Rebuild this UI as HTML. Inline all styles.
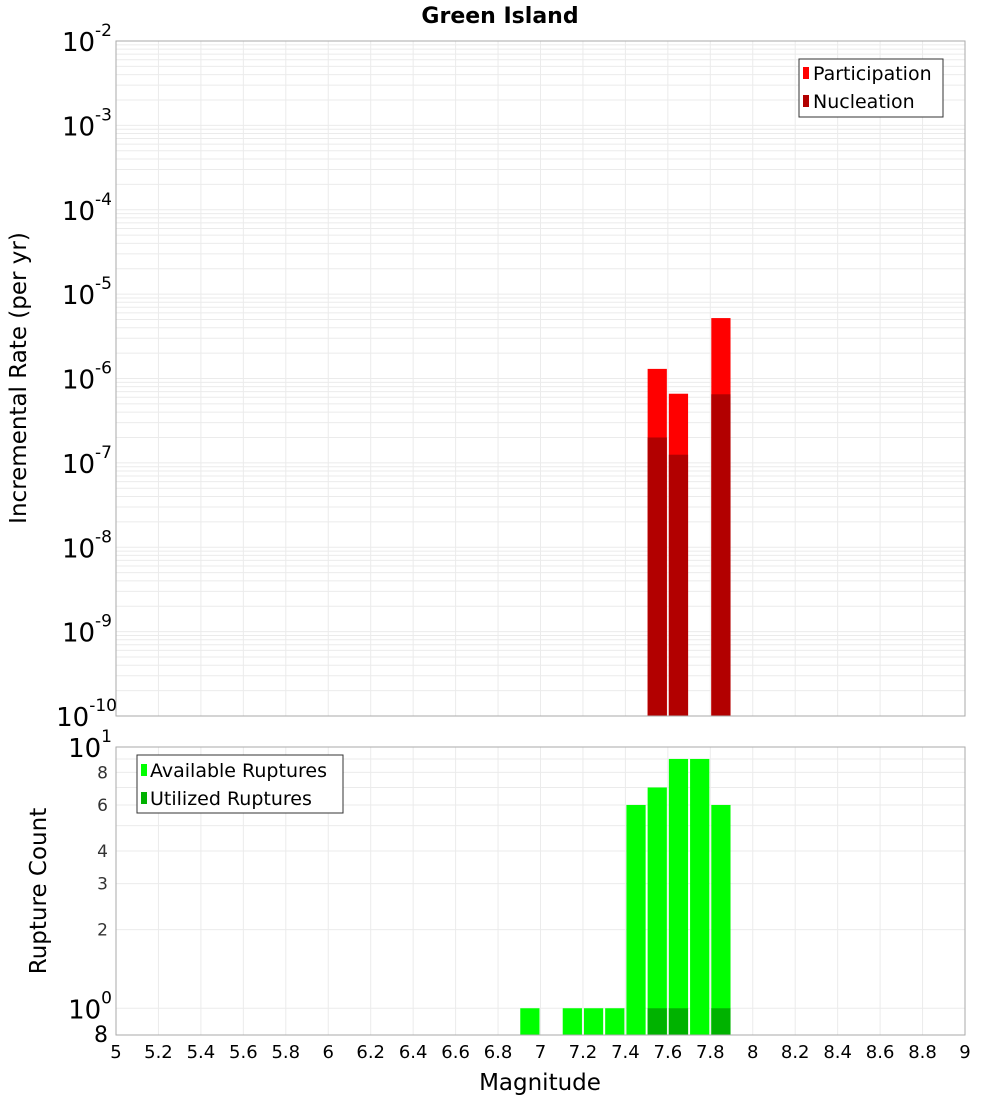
<!DOCTYPE html>
<html><head><meta charset="utf-8"><style>
body{margin:0;background:#fff;font-family:"DejaVu Sans","Liberation Sans",sans-serif}
svg{display:block}
</style></head><body>
<svg id="chart" width="1000" height="1100"></svg>
<script>
const binCenters=[7.55,7.65,7.85];
const participation=[1.3e-6,6.6e-7,5.2e-6];
const nucleation=[2.0e-7,1.25e-7,6.5e-7];
const availMags=[6.95,7.15,7.25,7.35,7.45,7.55,7.65,7.75,7.85];
const availCounts=[1,1,1,1,6,7,9,9,6];
const utilMags=[7.55,7.65,7.85];
const utilCounts=[1,1,1];
const xTicks=[5,5.2,5.4,5.6,5.8,6,6.2,6.4,6.6,6.8,7,7.2,7.4,7.6,7.8,8,8.2,8.4,8.6,8.8,9];
const topExps=[-2,-3,-4,-5,-6,-7,-8,-9,-10];
const botTicks=[2,3,4,6,8];

const NS="http://www.w3.org/2000/svg";
const svg=document.getElementById('chart');
function mk(tag,attrs,parent){const e=document.createElementNS(NS,tag);for(const k in attrs)e.setAttribute(k,attrs[k]);(parent||svg).appendChild(e);return e;}
const X0=116,X1=965;
const xs=m=>X0+(m-5)/4*(X1-X0);
const T0=41,T1=716;
const yTop=v=>T0+(-2-Math.log10(v))/8*(T1-T0);
const B0=747,B1=1035,BMIN=0.79;
const yBot=v=>B0+(1-Math.log10(v))/(1-Math.log10(BMIN))*(B1-B0);

let t=mk('text',{x:500,y:23,'text-anchor':'middle','font-size':22,'font-weight':'bold'});t.textContent='Green Island';


let g=mk('g',{});
for(let d=-10;d<-2;d++)for(let k=1;k<10;k++){const y=yTop(k*Math.pow(10,d));mk('line',{x1:X0,x2:X1,y1:y,y2:y,stroke:'#ebebeb','stroke-width':1},g);}
xTicks.forEach(m=>mk('line',{x1:xs(m),x2:xs(m),y1:T0,y2:T1,stroke:'#ebebeb'},g));
binCenters.forEach((m,i)=>{
 let r=mk('rect',{x:xs(m-0.05)+1,y:yTop(participation[i]),width:xs(m+0.05)-xs(m-0.05)-2,height:T1-yTop(participation[i]),fill:'#ff0000'},g);
 
 let n=mk('rect',{x:xs(m-0.05)+1,y:yTop(nucleation[i]),width:xs(m+0.05)-xs(m-0.05)-2,height:T1-yTop(nucleation[i]),fill:'#b20000'},g);
 
});
mk('rect',{x:X0,y:T0,width:X1-X0,height:T1-T0,fill:'none',stroke:'#aaa'},g);
topExps.forEach(e=>{const y=yTop(Math.pow(10,e));let tx=mk('text',{x:e==-10?117:112,y:y+10,'text-anchor':'end','font-size':26},g);
 tx.innerHTML='10<tspan dy="-15" font-size="17">'+e+'</tspan>';
 });
let yl=mk('text',{transform:'translate(26,378) rotate(-90)','text-anchor':'middle','font-size':23});yl.textContent='Incremental Rate (per yr)';

let lg=mk('g',{});
mk('rect',{x:799,y:59,width:144,height:58,fill:'#fff',stroke:'#333'},lg);
mk('rect',{x:803,y:67,width:6,height:12,fill:'#ff0000'},lg);
mk('rect',{x:803,y:95,width:6,height:12,fill:'#b20000'},lg);
let l1=mk('text',{x:813,y:80,'font-size':19},lg);l1.textContent='Participation';
let l2=mk('text',{x:813,y:108,'font-size':19},lg);l2.textContent='Nucleation';

let b=mk('g',{});
for(let k=1;k<=10;k++){const y=yBot(k);mk('line',{x1:X0,x2:X1,y1:y,y2:y,stroke:'#ebebeb'},b);}
xTicks.forEach(m=>mk('line',{x1:xs(m),x2:xs(m),y1:B0,y2:B1,stroke:'#ebebeb'},b));
availMags.forEach((m,i)=>{let r=mk('rect',{x:xs(m-0.05)+1,y:yBot(availCounts[i]),width:xs(m+0.05)-xs(m-0.05)-2,height:B1-yBot(availCounts[i]),fill:'#00ff00'},b);
 });
utilMags.forEach((m,i)=>{let r=mk('rect',{x:xs(m-0.05)+1,y:yBot(utilCounts[i]),width:xs(m+0.05)-xs(m-0.05)-2,height:B1-yBot(utilCounts[i]),fill:'#00b200'},b);
 });
mk('rect',{x:X0,y:B0,width:X1-X0,height:B1-B0,fill:'none',stroke:'#aaa'},b);
[[1,0],[10,1]].forEach(([v,e])=>{let tx=mk('text',{x:112,y:yBot(v)+10,'text-anchor':'end','font-size':26},b);
 tx.innerHTML='10<tspan dy="-15" font-size="17">'+e+'</tspan>';});
botTicks.forEach(v=>{let tx=mk('text',{x:108,y:yBot(v)+6,'text-anchor':'end','font-size':17,fill:'#333'},b);tx.textContent=v;});
let e8=mk('text',{x:108,y:1042,'text-anchor':'end','font-size':22},b);e8.textContent='8';
xTicks.forEach(m=>{let tx=mk('text',{x:xs(m),y:1058,'text-anchor':'middle','font-size':18},b);tx.textContent=String(m);
 });
let xl=mk('text',{x:540,y:1090,'text-anchor':'middle','font-size':23});xl.textContent='Magnitude';

let yl2=mk('text',{transform:'translate(46,891) rotate(-90)','text-anchor':'middle','font-size':23});yl2.textContent='Rupture Count';

let lg2=mk('g',{});
mk('rect',{x:137,y:755,width:206,height:58,fill:'#fff',stroke:'#333'},lg2);
mk('rect',{x:141,y:764,width:6,height:12,fill:'#00ff00'},lg2);
mk('rect',{x:141,y:792,width:6,height:12,fill:'#00b200'},lg2);
let l3=mk('text',{x:150,y:777,'font-size':19},lg2);l3.textContent='Available Ruptures';
let l4=mk('text',{x:150,y:805,'font-size':19},lg2);l4.textContent='Utilized Ruptures';
</script>
</body></html>
